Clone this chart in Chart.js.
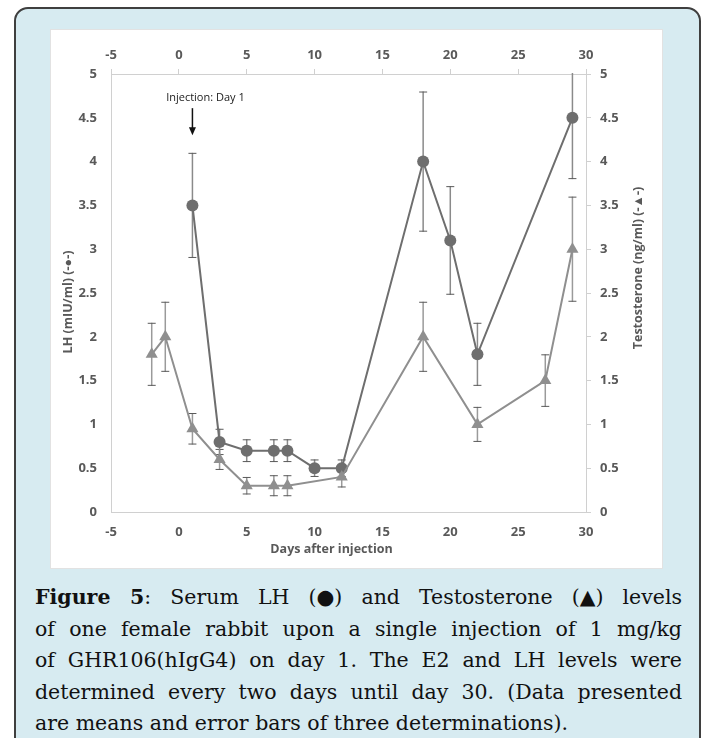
<!DOCTYPE html>
<html>
<head>
<meta charset="utf-8">
<script src="https://cdn.jsdelivr.net/npm/chart.js@4.4.1/dist/chart.umd.min.js"></script>
<style>
  html, body { margin: 0; padding: 0; background: #ffffff; }
  body { width: 703px; height: 738px; position: relative; overflow: hidden; }
  .frame {
    position: absolute; left: 14px; top: 7px; width: 683px; height: 780px;
    background: #d7ebf1; border: 2px solid #3f3f3f; border-radius: 14px;
  }
  .panel {
    position: absolute; left: 50px; top: 29px; width: 611px; height: 538px;
    background: #ffffff; border: 1px solid #e2e2e2;
  }
  .plot { position: absolute; left: 50px; top: 29px; width: 612px; height: 539px; }
  .caption {
    position: absolute; left: 35px; top: 582px; width: 647px;
    font-family: "DejaVu Serif", "Liberation Serif", serif; font-size: 20.5px;
    line-height: 31.5px; color: #111;
  }
  .caption .ln { text-align: justify; text-align-last: justify; }
  .caption .ln.last { text-align: left; text-align-last: left; }
  .caption .sym { display: inline-block; }
</style>
</head>
<body>
<div class="frame"></div>
<div class="panel"></div>
<div class="plot"><canvas id="c"></canvas></div>
<div class="caption">
  <div class="ln"><b>Figure 5</b>: Serum LH <span class="sym">(●)</span> and Testosterone <span class="sym">(▲)</span> levels</div>
  <div class="ln">of one female rabbit upon a single injection of 1 mg/kg</div>
  <div class="ln">of GHR106(hIgG4) on day 1. The E2 and LH levels were</div>
  <div class="ln">determined every two days until day 30. (Data presented</div>
  <div class="ln last">are means and error bars of three determinations).</div>
</div>
<script>
// Sampling days, means and error half-widths for each hormone
const lhDays = [1, 3, 5, 7, 8, 10, 12, 18, 20, 22, 29];
const lhMean = [3.5, 0.8, 0.7, 0.7, 0.7, 0.5, 0.5, 4.0, 3.1, 1.8, 4.5];
const lhErr  = [0.6, 0.15, 0.13, 0.13, 0.13, 0.1, 0.1, 0.8, 0.62, 0.36, 0.7];

const tDays = [-2, -1, 1, 3, 5, 7, 8, 12, 18, 22, 27, 29];
const tMean = [1.8, 2.0, 0.95, 0.6, 0.3, 0.3, 0.3, 0.4, 2.0, 1.0, 1.5, 3.0];
const tErr  = [0.36, 0.4, 0.18, 0.12, 0.1, 0.12, 0.12, 0.12, 0.4, 0.2, 0.3, 0.6];

// Axis tick labels
const dayTicks = ['-5', '0', '5', '10', '15', '20', '25', '30'];
const levelTicks = ['0', '0.5', '1', '1.5', '2', '2.5', '3', '3.5', '4', '4.5', '5'];

// Injection marker
const injectionDay = 1;
const injectionText = 'Injection: Day 1';

const AXIS_TEXT = '#595959';
const AXIS_LINE = '#d0d0d0';
const tickFont = { family: '"Open Sans", sans-serif', size: 13, weight: 'bold' };

const lhColor = '#6e6e6e';
const tColor = '#8f8f8f';

const toPoints = (xs, ys) => xs.map((x, i) => ({ x: x, y: ys[i] }));

// Vertical error bars with caps, drawn behind the markers
const errorBars = {
  id: 'errorBars',
  beforeDatasetsDraw(chart) {
    const ctx = chart.ctx;
    const area = chart.chartArea;
    ctx.save();
    ctx.beginPath();
    ctx.rect(area.left, area.top - 1, area.right - area.left, area.bottom - area.top + 2);
    ctx.clip();
    chart.data.datasets.forEach((ds, di) => {
      const meta = chart.getDatasetMeta(di);
      const ys = chart.scales[ds.yAxisID];
      ds.errors.forEach((e, j) => {
        const pt = meta.data[j];
        const v = ds.data[j].y;
        const top = ys.getPixelForValue(v + e);
        const bot = ys.getPixelForValue(v - e);
        ctx.strokeStyle = ds.errorColor;
        ctx.lineWidth = 1.5;
        ctx.beginPath();
        ctx.moveTo(pt.x, top);
        ctx.lineTo(pt.x, bot);
        ctx.stroke();
        ctx.strokeStyle = '#5a5a5a';
        ctx.lineWidth = 1;
        ctx.beginPath();
        if (top >= area.top) { ctx.moveTo(pt.x - 4, top + 0.5); ctx.lineTo(pt.x + 4, top + 0.5); }
        if (bot <= area.bottom) { ctx.moveTo(pt.x - 4, bot - 0.5); ctx.lineTo(pt.x + 4, bot - 0.5); }
        ctx.stroke();
      });
    });
    ctx.restore();
  }
};

// Axis titles and the injection arrow
const decorations = {
  id: 'decorations',
  afterDraw(chart) {
    const ctx = chart.ctx;
    const a = chart.chartArea;
    const xs = chart.scales.x;
    const ys = chart.scales.y;
    const midY = (a.top + a.bottom) / 2;
    ctx.save();
    ctx.fillStyle = AXIS_TEXT;
    ctx.font = 'bold 12.5px "Open Sans", sans-serif';
    ctx.textAlign = 'center';
    ctx.textBaseline = 'middle';

    ctx.fillText('Days after injection', (a.left + a.right) / 2 - 17, a.bottom + 37);

    ctx.save();
    ctx.translate(a.left - 43, midY + 9);
    ctx.rotate(-Math.PI / 2);
    ctx.fillText('LH (mIU/ml) (-●-)', 0, 0);
    ctx.restore();

    ctx.save();
    ctx.translate(a.right + 52, midY - 25);
    ctx.rotate(-Math.PI / 2);
    ctx.fillText('Testosterone (ng/ml) (-▲-)', 0, 0);
    ctx.restore();

    // annotation
    const ax = xs.getPixelForValue(injectionDay);
    ctx.fillStyle = '#1a1a1a';
    ctx.font = '11px "Open Sans", sans-serif';
    ctx.fillText(injectionText, ax + 13, ys.getPixelForValue(4.73));
    const y0 = ys.getPixelForValue(4.61);
    const y1 = ys.getPixelForValue(4.3);
    ctx.strokeStyle = '#111';
    ctx.lineWidth = 1.5;
    ctx.beginPath();
    ctx.moveTo(ax, y0);
    ctx.lineTo(ax, y1 - 6);
    ctx.stroke();
    ctx.fillStyle = '#111';
    ctx.beginPath();
    ctx.moveTo(ax - 3.5, y1 - 8);
    ctx.lineTo(ax + 3.5, y1 - 8);
    ctx.lineTo(ax, y1);
    ctx.closePath();
    ctx.fill();
    ctx.restore();
  }
};

const fixSize = (prop, size) => (scale) => { scale[prop] = size; };

new Chart(document.getElementById('c'), {
  type: 'line',
  data: {
    datasets: [
      {
        label: 'Testosterone',
        data: toPoints(tDays, tMean),
        errors: tErr,
        errorColor: '#9a9a9a',
        yAxisID: 'y2',
        borderColor: tColor,
        backgroundColor: tColor,
        borderWidth: 2,
        pointStyle: 'triangle',
        pointRadius: 7,
        pointBorderWidth: 0,
        tension: 0,
        order: 1
      },
      {
        label: 'LH',
        data: toPoints(lhDays, lhMean),
        errors: lhErr,
        errorColor: '#8a8a8a',
        yAxisID: 'y',
        borderColor: lhColor,
        backgroundColor: lhColor,
        borderWidth: 2,
        pointStyle: 'circle',
        pointRadius: 6,
        pointBorderWidth: 0,
        tension: 0,
        order: 2
      }
    ]
  },
  options: {
    responsive: true,
    maintainAspectRatio: false,
    animation: false,
    layout: { padding: 0 },
    plugins: { legend: { display: false }, tooltip: { enabled: false } },
    scales: {
      x: {
        type: 'linear', position: 'bottom', min: -5, max: 30,
        afterFit: fixSize('height', 56),
        ticks: { stepSize: 5, color: AXIS_TEXT, font: tickFont, padding: 12, maxRotation: 0,
                 callback: (v, i) => dayTicks[i] },
        grid: { drawOnChartArea: false, drawTicks: false },
        border: { color: AXIS_LINE, width: 1 }
      },
      x2: {
        type: 'linear', position: 'top', min: -5, max: 30,
        afterFit: fixSize('height', 45),
        ticks: { stepSize: 5, color: AXIS_TEXT, font: tickFont, padding: 6, maxRotation: 0,
                 callback: (v, i) => dayTicks[i] },
        grid: { drawOnChartArea: false, drawTicks: true, tickLength: 5, color: AXIS_LINE },
        border: { color: AXIS_LINE, width: 1 }
      },
      y: {
        type: 'linear', position: 'left', min: 0, max: 5,
        afterFit: fixSize('width', 61),
        ticks: { stepSize: 0.5, color: AXIS_TEXT, font: tickFont, padding: 14,
                 callback: (v, i) => levelTicks[i] },
        grid: { drawOnChartArea: false, drawTicks: false },
        border: { color: AXIS_LINE, width: 1 }
      },
      y2: {
        type: 'linear', position: 'right', min: 0, max: 5,
        afterFit: fixSize('width', 76),
        ticks: { stepSize: 0.5, color: AXIS_TEXT, font: tickFont, padding: 9,
                 callback: (v, i) => levelTicks[i] },
        grid: { drawOnChartArea: false, drawTicks: true, tickLength: 5, color: AXIS_LINE },
        border: { color: AXIS_LINE, width: 1 }
      }
    }
  },
  plugins: [errorBars, decorations]
});
</script>
</body>
</html>
